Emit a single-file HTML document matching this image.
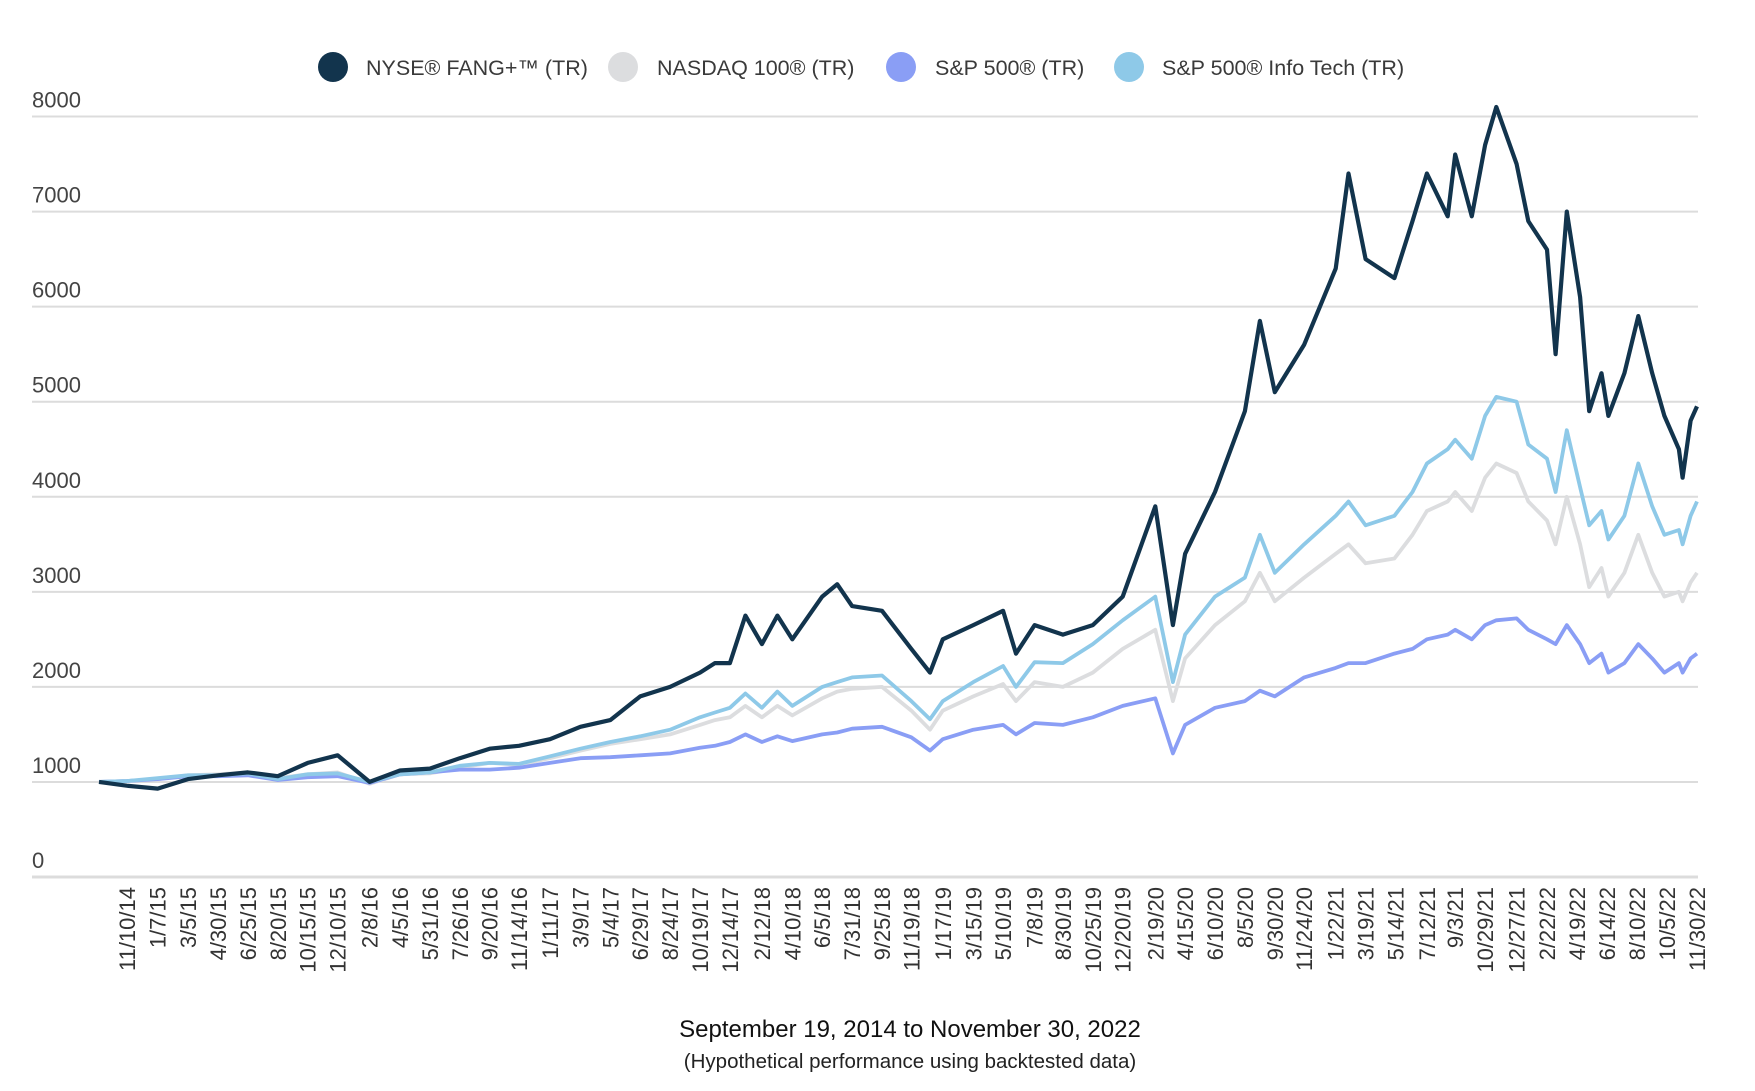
<!DOCTYPE html>
<html><head><meta charset="utf-8"><style>
html,body{margin:0;padding:0;background:#fff;}
svg{display:block;font-family:"Liberation Sans",Arial,sans-serif;}
</style></head><body>
<svg id="chart" width="1755" height="1091" viewBox="0 0 1755 1091" xmlns="http://www.w3.org/2000/svg">
<g id="legend">
  <g><circle cx="333" cy="67" r="15" fill="#12344d"/><text x="366" y="75" font-size="21.5" fill="#3a3a3a">NYSE® FANG+™ (TR)</text></g>
  <g><circle cx="623" cy="67" r="15" fill="#dcdddf"/><text x="657" y="75" font-size="21.5" fill="#3a3a3a">NASDAQ 100® (TR)</text></g>
  <g><circle cx="901" cy="67" r="15" fill="#8a9ef5"/><text x="935" y="75" font-size="21.5" fill="#3a3a3a">S&amp;P 500® (TR)</text></g>
  <g><circle cx="1129" cy="67" r="15" fill="#8ec9e8"/><text x="1162" y="75" font-size="21.5" fill="#3a3a3a">S&amp;P 500® Info Tech (TR)</text></g>
</g>
<g id="grid"></g>
<g id="yticks"></g>
<g id="xticks"></g>
<g id="series"></g>
<text x="910" y="1037" font-size="24" fill="#111" text-anchor="middle">September 19, 2014 to November 30, 2022</text>
<text x="910" y="1068" font-size="20.5" fill="#222" text-anchor="middle">(Hypothetical performance using backtested data)</text>
</svg>
<script>
const dates = ["2014-09-19","2014-11-10","2015-01-07","2015-03-05","2015-04-30","2015-06-25","2015-08-20","2015-10-15","2015-12-10","2016-02-08","2016-04-05","2016-05-31","2016-07-26","2016-09-20","2016-11-14","2017-01-11","2017-03-09","2017-05-04","2017-06-29","2017-08-24","2017-10-19","2017-11-16","2017-12-14","2018-01-12","2018-02-12","2018-03-13","2018-04-10","2018-06-05","2018-07-03","2018-07-31","2018-09-25","2018-11-19","2018-12-24","2019-01-17","2019-03-15","2019-05-10","2019-06-03","2019-07-08","2019-08-30","2019-10-25","2019-12-20","2020-02-19","2020-03-23","2020-04-15","2020-06-10","2020-08-05","2020-09-02","2020-09-30","2020-11-24","2021-01-22","2021-02-15","2021-03-19","2021-05-12","2021-06-15","2021-07-12","2021-08-20","2021-09-03","2021-10-04","2021-10-29","2021-11-19","2021-12-27","2022-01-18","2022-02-22","2022-03-10","2022-03-31","2022-04-25","2022-05-12","2022-06-04","2022-06-17","2022-07-17","2022-08-12","2022-09-07","2022-09-30","2022-10-27","2022-11-03","2022-11-18","2022-11-30"];
const fang = [1000,960,930,1030,1070,1100,1060,1200,1280,1000,1120,1140,1250,1350,1380,1450,1580,1650,1900,2000,2150,2250,2250,2750,2450,2750,2500,2950,3080,2850,2800,2400,2150,2500,2650,2800,2350,2650,2550,2650,2950,3900,2650,3400,4050,4900,5850,5100,5600,6400,7400,6500,6300,6900,7400,6950,7600,6950,7700,8100,7500,6900,6600,5500,7000,6100,4900,5300,4850,5300,5900,5300,4850,4500,4200,4800,4950];
const nasdaq = [1000,1010,1030,1070,1080,1100,1040,1080,1100,980,1080,1090,1150,1200,1180,1250,1330,1400,1450,1500,1600,1650,1680,1800,1680,1800,1700,1880,1950,1980,2000,1750,1550,1750,1900,2030,1850,2050,2000,2150,2400,2600,1850,2300,2650,2900,3200,2900,3150,3400,3500,3300,3350,3600,3850,3950,4050,3850,4200,4350,4250,3950,3750,3500,4000,3500,3050,3250,2950,3200,3600,3200,2950,3000,2900,3100,3200];
const sp500 = [1000,1010,1030,1060,1060,1070,1020,1050,1060,990,1080,1100,1130,1130,1150,1200,1250,1260,1280,1300,1360,1380,1420,1500,1420,1480,1430,1500,1520,1560,1580,1470,1330,1450,1550,1600,1500,1620,1600,1680,1800,1880,1300,1600,1780,1850,1960,1900,2100,2200,2250,2250,2350,2400,2500,2550,2600,2500,2650,2700,2720,2600,2500,2450,2650,2450,2250,2350,2150,2250,2450,2300,2150,2250,2150,2300,2350];
const infotech = [1000,1010,1040,1070,1070,1090,1030,1080,1090,1000,1080,1100,1170,1200,1190,1270,1350,1420,1480,1550,1680,1730,1780,1930,1780,1950,1800,2000,2050,2100,2120,1850,1660,1850,2050,2220,2000,2260,2250,2450,2700,2950,2050,2550,2950,3150,3600,3200,3500,3800,3950,3700,3800,4050,4350,4500,4600,4400,4850,5050,5000,4550,4400,4050,4700,4100,3700,3850,3550,3800,4350,3900,3600,3650,3500,3800,3950];
const yTicks = [0,1000,2000,3000,4000,5000,6000,7000,8000];
const xTickLabels = ["11/10/14","1/7/15","3/5/15","4/30/15","6/25/15","8/20/15","10/15/15","12/10/15","2/8/16","4/5/16","5/31/16","7/26/16","9/20/16","11/14/16","1/11/17","3/9/17","5/4/17","6/29/17","8/24/17","10/19/17","12/14/17","2/12/18","4/10/18","6/5/18","7/31/18","9/25/18","11/19/18","1/17/19","3/15/19","5/10/19","7/8/19","8/30/19","10/25/19","12/20/19","2/19/20","4/15/20","6/10/20","8/5/20","9/30/20","11/24/20","1/22/21","3/19/21","5/14/21","7/12/21","9/3/21","10/29/21","12/27/21","2/22/22","4/19/22","6/14/22","8/10/22","10/5/22","11/30/22"];

const NS = "http://www.w3.org/2000/svg";
const X0 = 99, X1 = 1697, Y0 = 877, Y8 = 116.5;
const T0 = Date.UTC(2014,8,19), T1 = Date.UTC(2022,10,30);
function parseISO(s){const p=s.split("-");return Date.UTC(+p[0],+p[1]-1,+p[2]);}
function parseMDY(s){const p=s.split("/");return Date.UTC(2000+ +p[2],+p[0]-1,+p[1]);}
function xScale(t){return X0 + (t - T0)/(T1 - T0)*(X1 - X0);}
function yScale(v){return Y0 - v/8000*(Y0 - Y8);}
function mk(tag, attrs){const e=document.createElementNS(NS,tag);for(const k in attrs)e.setAttribute(k,attrs[k]);return e;}

const grid=document.getElementById("grid"), yt=document.getElementById("yticks"), xt=document.getElementById("xticks"), ser=document.getElementById("series");
yTicks.forEach(v=>{
  const y=yScale(v);
  const l=mk("line",{x1:32,x2:1698,y1:y,y2:y,stroke:"#dcdcdc","stroke-width":v===0?3:2});
  
  
  grid.appendChild(l);
  const t=mk("text",{x:32,y:y-9,"font-size":22,fill:"#444"});
  
  
  t.textContent=String(v);
  yt.appendChild(t);
});
xTickLabels.forEach(s=>{
  const x=xScale(parseMDY(s))+8, y=887;
  const t=mk("text",{x:x,y:y,"font-size":22,fill:"#333","text-anchor":"end",transform:`rotate(-90 ${x} ${y})`});
  
  
  t.textContent=s;
  xt.appendChild(t);
});
const seriesList=[["nasdaq-line",nasdaq,"#dcdddf"],["sp500-line",sp500,"#8a9ef5"],["infotech-line",infotech,"#8ec9e8"],["fang-line",fang,"#12344d"]];
seriesList.forEach(([name,vals,col])=>{
  const d=vals.map((v,i)=>(i?"L":"M")+xScale(parseISO(dates[i])).toFixed(1)+","+yScale(v).toFixed(1)).join(" ");
  const p=mk("path",{d:d,fill:"none",stroke:col,"stroke-width":name==="fang-line"?4.2:3.8,"stroke-linejoin":"round"});
  
  
  ser.appendChild(p);
});
</script>
</body></html>
